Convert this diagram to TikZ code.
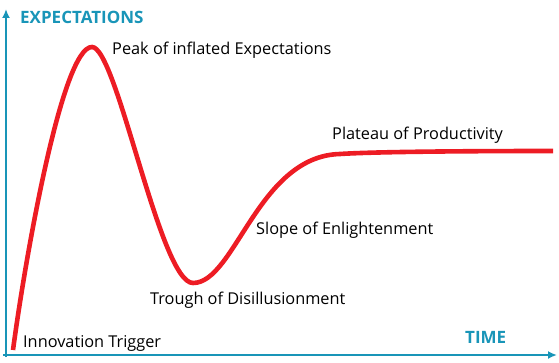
\documentclass[tikz,border=0pt]{standalone}
\usepackage{fontspec}
\setmainfont{Open Sans}
\usepackage{tikz}
\usetikzlibrary{arrows.meta,positioning,calc}
\definecolor{AxisTeal}{HTML}{1995B8}
\definecolor{HypeRed}{HTML}{ED1C24}

\begin{document}
\begin{tikzpicture}[x=1pt,y=-1pt,>=Latex]
\tikzstyle{phase}=[anchor=west,inner sep=0pt,font=\fontsize{16.3}{18}\selectfont]
\tikzstyle{axislabel}=[anchor=west,inner sep=0pt,text=AxisTeal,font=\fontsize{17}{19}\selectfont\bfseries]
\tikzstyle{axis}=[draw=AxisTeal,line width=2.6pt,-{Latex[length=9pt,width=8pt]}]
\useasboundingbox (0,0) rectangle (559,363);
% axes
\coordinate (origin) at (6,355);
\coordinate (ytop) at (6,9);
\coordinate (xend) at (557,355);
\draw[axis] ($(origin)+(0,2)$) -- (ytop);
\draw[axis] ($(origin)+(-3,0)$) -- (xend);
\node[axislabel] (expect) at (20,17) {EXPECTATIONS};
\node[axislabel] (time) at (465,337) {TIME};
% hype curve
\coordinate (start) at (13,350);
\coordinate (top) at (92,47);
\coordinate (bottom) at (193,283);
\coordinate (level) at (340,154);
\coordinate (finish) at (553,151);
\draw[HypeRed,line width=4.6pt] (start) .. controls (25,260) and (62,47) .. (top)
  .. controls (117,47) and (160,283) .. (bottom)
  .. controls (235,283) and (258,156) .. (level)
  .. controls (370,152) and (450,151) .. (finish);
% phases
\node[phase] (peak) at (112,50) {Peak of inflated Expectations};
\node[phase] (plateau) at (332,135) {Plateau of Productivity};
\node[phase] (slope) at (256,230) {Slope of Enlightenment};
\node[phase] (trough) at (150,300) {Trough of Disillusionment};
\node[phase] (trigger) at (23,343) {Innovation Trigger};
\end{tikzpicture}
\end{document}
